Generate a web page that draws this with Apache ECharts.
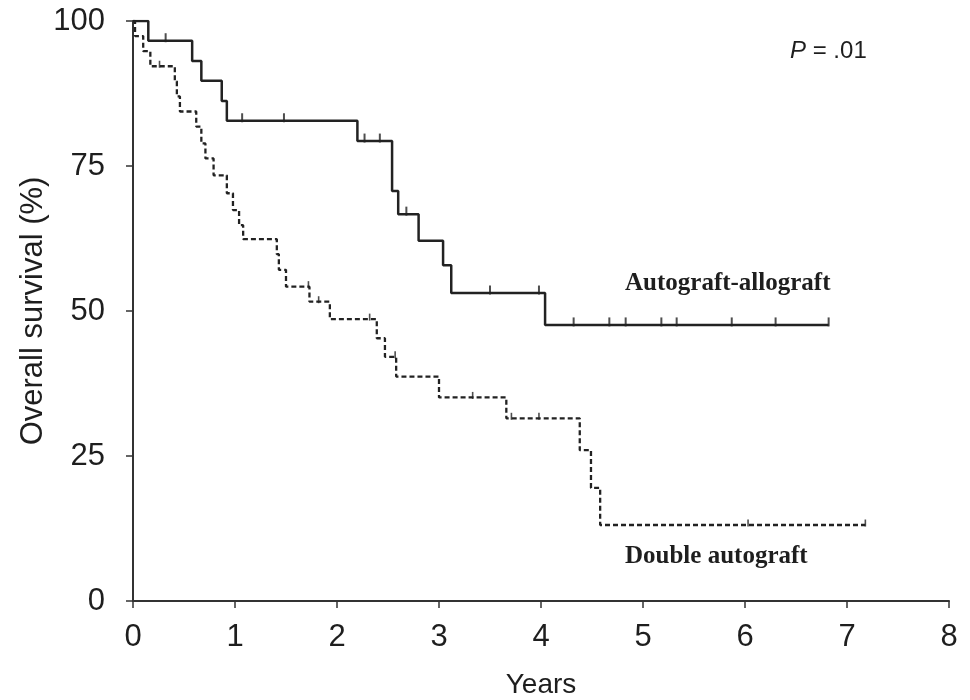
<!DOCTYPE html>
<html>
<head>
<meta charset="utf-8">
<script src="https://cdn.jsdelivr.net/npm/echarts@6/dist/echarts.min.js"></script>
<style>
  html, body { margin: 0; padding: 0; background: #fff; }
  #chart { width: 970px; height: 700px; }
</style>
</head>
<body>
<div id="chart"></div>
<script>
// Kaplan-Meier overall survival, two treatment arms
const xTicks = [0, 1, 2, 3, 4, 5, 6, 7, 8];
const yTicks = [0, 25, 50, 75, 100];

// Autograft-allograft arm: event times (years) and survival (%) after each step
const alloTime = [0, 0.15, 0.58, 0.67, 0.87, 0.92, 2.20, 2.54, 2.60, 2.80, 3.04, 3.12, 4.04, 6.82];
const alloSurv = [100, 96.6, 93.1, 89.7, 86.2, 82.8, 79.3, 70.7, 66.7, 62.1, 57.9, 53.1, 47.6, 47.6];
const alloCensor = [0.32, 1.07, 1.48, 2.27, 2.42, 2.68, 3.50, 3.98, 4.32, 4.67, 4.83, 5.18, 5.33, 5.87, 6.30, 6.82];

// Double autograft arm
const autoTime = [0, 0.02, 0.10, 0.17, 0.41, 0.43, 0.46, 0.62, 0.67, 0.71, 0.79, 0.92, 0.98, 1.04, 1.08,
                  1.41, 1.43, 1.50, 1.73, 1.93, 2.39, 2.47, 2.58, 3.00, 3.66, 4.38, 4.49, 4.58, 7.18];
const autoSurv = [100, 97.4, 94.8, 92.2, 89.6, 87.0, 84.4, 81.8, 78.9, 76.3, 73.4, 70.3, 67.4, 64.8, 62.4,
                  59.8, 57.1, 54.2, 51.6, 48.6, 45.3, 42.1, 38.7, 35.1, 31.5, 26.0, 19.5, 13.1, 13.1];
const autoCensor = [0.26, 1.72, 1.82, 2.32, 2.57, 3.33, 3.71, 3.98, 6.03, 7.18];

const armNames = ['Autograft-allograft', 'Double autograft'];
const pText = '.01';

function pairs(t, s) { return t.map((v, i) => [v, s[i]]); }
// survival value in effect at time x (right-continuous step function)
function survAt(t, s, x) {
  let v = s[0];
  for (let i = 0; i < t.length; i++) { if (t[i] <= x) v = s[i]; }
  return v;
}
function censorPts(t, s, c) { return c.map(x => [x, survAt(t, s, x)]); }

const sansFont = "'Liberation Sans', Arial, sans-serif";
const serifFont = "'Liberation Serif', 'Times New Roman', serif";
const ink = '#1e1e1e';

const chart = echarts.init(document.getElementById('chart'), null, { renderer: 'canvas' });

chart.setOption({
  backgroundColor: '#ffffff',
  animation: false,
  grid: { left: 133, right: 21, top: 21, bottom: 99, containLabel: false, outerBoundsMode: 'none' },
  xAxis: {
    type: 'value', min: xTicks[0], max: xTicks[xTicks.length - 1], interval: 1,
    name: 'Years', nameLocation: 'middle', nameGap: 70, nameMoveOverlap: false,
    nameTextStyle: { fontFamily: sansFont, fontSize: 28, color: ink },
    axisLine: { lineStyle: { color: '#333', width: 2 } },
    axisTick: { show: true, length: 7, inside: false, lineStyle: { color: '#333', width: 1.5 } },
    axisLabel: { margin: 21, fontFamily: sansFont, fontSize: 31, color: ink },
    splitLine: { show: false }
  },
  yAxis: {
    type: 'value', min: yTicks[0], max: yTicks[yTicks.length - 1], interval: 25,
    name: 'Overall survival (%)', nameLocation: 'middle', nameGap: 84, nameRotate: 90,
    nameMoveOverlap: false,
    nameTextStyle: { fontFamily: sansFont, fontSize: 31, color: ink },
    axisLine: { show: true, lineStyle: { color: '#333', width: 2 } },
    axisTick: { show: true, length: 7, inside: false, lineStyle: { color: '#333', width: 1.5 } },
    axisLabel: { margin: 28, fontFamily: sansFont, fontSize: 31, color: ink },
    splitLine: { show: false }
  },
  series: [
    {
      name: armNames[0], type: 'line', step: 'end', showSymbol: false, symbol: 'none',
      data: pairs(alloTime, alloSurv),
      lineStyle: { color: '#222', width: 2.5, type: 'solid' }, z: 3
    },
    {
      name: armNames[1], type: 'line', step: 'end', showSymbol: false, symbol: 'none',
      data: pairs(autoTime, autoSurv),
      lineStyle: { color: '#222', width: 2.3, type: [5, 3] }, z: 3
    },
    {
      name: armNames[0] + ' censored', type: 'scatter',
      data: censorPts(alloTime, alloSurv, alloCensor),
      symbol: 'rect', symbolSize: [2, 9], symbolOffset: [0, -3],
      itemStyle: { color: '#222' }, z: 4
    },
    {
      name: armNames[1] + ' censored', type: 'scatter',
      data: censorPts(autoTime, autoSurv, autoCensor),
      symbol: 'rect', symbolSize: [1.6, 7], symbolOffset: [0, -2],
      itemStyle: { color: '#222' }, z: 4
    }
  ],
  graphic: [
    {
      type: 'text', left: 790, top: 39,
      style: {
        text: '{i|P} = ' + pText,
        rich: { i: { fontStyle: 'italic', fontFamily: sansFont, fontSize: 24, fill: ink } },
        fontFamily: sansFont, fontSize: 24, fill: ink
      }
    },
    {
      type: 'text', left: 625, top: 271,
      style: { text: armNames[0], fontFamily: serifFont, fontWeight: 'bold', fontSize: 25, fill: ink }
    },
    {
      type: 'text', left: 625, top: 544,
      style: { text: armNames[1], fontFamily: serifFont, fontWeight: 'bold', fontSize: 25, fill: ink }
    }
  ]
});
</script>
</body>
</html>
